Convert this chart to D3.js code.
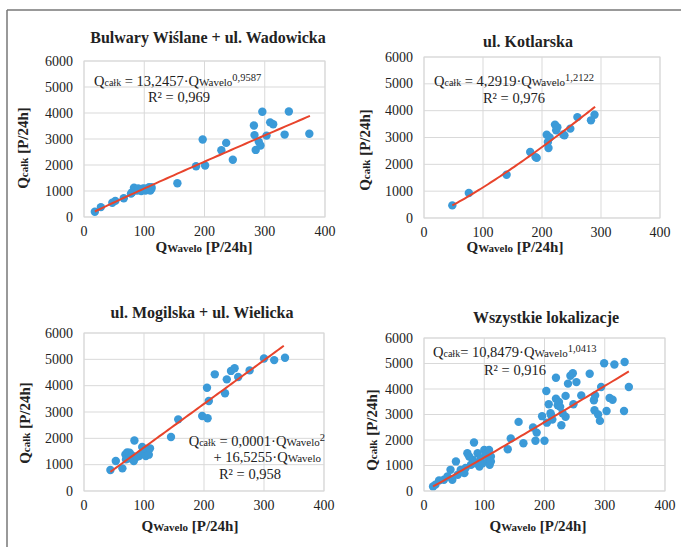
<!DOCTYPE html>
<html><head><meta charset="utf-8">
<script src="https://cdn.jsdelivr.net/npm/d3@7"></script>
<style>body{margin:0;background:#fff}svg{display:block}</style>
</head><body>
<svg id="c" width="681" height="547"></svg>
<script>
const FF = "'Liberation Serif'";
const xTicks = [0,100,200,300,400];
const yTicks = [0,1000,2000,3000,4000,5000,6000];
const titles = ["Bulwary Wiślane + ul. Wadowicka","ul. Kotlarska","ul. Mogilska + ul. Wielicka","Wszystkie lokalizacje"];
const r2 = ["0,969","0,976","0,958","0,916"];

const bulwaryX = [18,28,47,52,66,78,80,83,85,88,90,95,97,100,102,105,108,110,112,112,155,186,197,201,228,236,247,282,283,285,290,293,296,303,309,314,333,340,374];
const bulwaryY = [200,380,550,620,720,900,950,1130,1050,1020,1100,1000,1090,1100,1020,1080,1150,1020,1090,1150,1300,1950,2980,1980,2570,2850,2200,3520,3150,2580,2900,2750,4050,3130,3640,3570,3170,4060,3200];

const kotlarskaX = [48,76,140,180,189,191,208,210,211,213,222,224,226,236,238,248,260,283,289];
const kotlarskaY = [470,930,1610,2460,2270,2240,3100,2830,2610,3000,3480,3270,3380,3110,3080,3330,3760,3640,3850];

const mogilskaX = [44,53,64,69,70,72,75,76,79,80,83,84,88,92,95,97,100,103,106,108,110,145,157,197,205,206,208,218,235,238,245,251,257,276,300,317,335];
const mogilskaY = [800,1140,860,1390,1200,1460,1240,1450,1270,1350,1140,1920,1300,1330,1400,1670,1420,1330,1540,1380,1620,2050,2720,2850,3920,2760,3420,4430,3710,4240,4560,4660,4330,4580,5030,4970,5060];

const allX = [15,19,25,33,39,44,47,53,56,61,67,69,72,75,78,81,83,86,89,92,94,97,100,103,106,108,109,111,111,139,144,157,165,181,185,187,196,200,203,204,207,211,213,219,219,222,224,228,235,235,239,243,247,248,253,261,275,282,283,284,289,292,294,299,303,308,313,316,332,333,340,210,226,230];
const allY = [180,250,415,440,570,830,440,1160,640,830,700,900,1480,1350,1030,1220,1900,1090,1480,960,1290,1090,1610,1420,1160,1610,1030,1350,1160,1640,2060,2710,1870,2490,1970,2290,2935,1970,3920,2680,3400,2970,2800,4440,3620,3360,3490,2580,3730,2910,4210,4520,4620,3400,4270,3750,4600,3560,3170,3750,3000,2750,4080,5010,3140,3650,3580,4960,3140,5060,4080,3050,3300,3050];

// trend coefficients read from the equations
const fits = [
  {type:"pow", a:13.2457, b:0.9587, x0:18, x1:375},
  {type:"pow", a:4.2919, b:1.2122, x0:48, x1:290},
  {type:"poly", a:0.0001, b:16.5255, x0:44, x1:333},
  {type:"pow", a:10.8479, b:1.0413, x0:15, x1:340}
];

const panels = [
  {xs:bulwaryX, ys:bulwaryY, L:84, R:325, T:61, B:217, titleX:208, titleY:43, ylx:23, yly:148, xlx:204, xly:252,
   eq:{x:94,y:86,coef:"13,2457",exp:"0,9587",sp:" = "}, r2x:179, r2y:102},
  {xs:kotlarskaX, ys:kotlarskaY, L:424, R:660, T:57, B:218, titleX:528, titleY:47, ylx:365, yly:150, xlx:515, xly:252,
   eq:{x:434,y:86,coef:"4,2919",exp:"1,2122",sp:" = "}, r2x:514, r2y:103},
  {xs:mogilskaX, ys:mogilskaY, L:84, R:324, T:333, B:491, titleX:202, titleY:318, ylx:25, yly:423, xlx:190, xly:531,
   eq:null, r2x:250, r2y:479},
  {xs:allX, ys:allY, L:424, R:665, T:338, B:491, titleX:546, titleY:323, ylx:372, yly:430, xlx:538, xly:531,
   eq:{x:433,y:357,coef:"10,8479",exp:"1,0413",sp:"= "}, r2x:515, r2y:375}
];

const svg = d3.select("#c");
const col = "#222";
svg.append("line").attr("x1",7).attr("y1",10).attr("x2",681).attr("y2",10).attr("stroke","#777").attr("stroke-width",1.5);
svg.append("line").attr("x1",7).attr("y1",10).attr("x2",7).attr("y2",547).attr("stroke","#777").attr("stroke-width",1.5);

function txt(sel){ return sel.append("text").attr("font-family",FF).attr("fill",col); }

panels.forEach((p,i)=>{
  const g = svg.append("g");
  const x = d3.scaleLinear().domain([0,400]).range([p.L,p.R]);
  const y = d3.scaleLinear().domain([0,6000]).range([p.B,p.T]);
  g.selectAll(".gx").data(xTicks).join("line").attr("x1",d=>x(d)).attr("x2",d=>x(d)).attr("y1",p.T).attr("y2",p.B).attr("stroke","#d9d9d9").attr("stroke-width",1);
  g.selectAll(".gy").data(yTicks).join("line").attr("y1",d=>y(d)).attr("y2",d=>y(d)).attr("x1",p.L).attr("x2",p.R).attr("stroke","#d9d9d9").attr("stroke-width",1);
  g.selectAll(".tx").data(xTicks).join("text").attr("font-family",FF).attr("fill",col).attr("x",d=>x(d)).attr("y",p.B+19).attr("text-anchor","middle").attr("font-size",14).text(d=>d);
  g.selectAll(".ty").data(yTicks).join("text").attr("font-family",FF).attr("fill",col).attr("x",p.L-11).attr("y",d=>y(d)+4.5).attr("text-anchor","end").attr("font-size",14).text(d=>d);
  txt(g).attr("x",p.titleX).attr("y",p.titleY).attr("text-anchor","middle").attr("font-size",16).attr("font-weight","bold").text(titles[i]);
  const xl = txt(g).attr("x",p.xlx).attr("y",p.xly).attr("text-anchor","middle").attr("font-weight","bold").attr("font-size",15);
  xl.append("tspan").text("Q");
  xl.append("tspan").attr("font-size",11).text("Wavelo");
  xl.append("tspan").text(" [P/24h]");
  const yl = txt(g).attr("transform",`translate(${p.ylx+5},${p.yly}) rotate(-90)`).attr("text-anchor","middle").attr("font-weight","bold").attr("font-size",15);
  yl.append("tspan").text("Q");
  yl.append("tspan").attr("font-size",11).text("całk");
  yl.append("tspan").text(" [P/24h]");
  const pts = p.xs.map((v,k)=>[v,p.ys[k]]);
  g.selectAll(".pt").data(pts).join("circle").attr("cx",d=>x(d[0])).attr("cy",d=>y(d[1])).attr("r",4.2).attr("fill","#3b9ad8");
  const f = fits[i];
  const fn = f.type==="pow" ? (v=>f.a*Math.pow(v,f.b)) : (v=>f.a*v*v+f.b*v);
  const xsLine = d3.range(0,61).map(k=>f.x0+(f.x1-f.x0)*k/60);
  g.append("path").attr("d",d3.line().x(d=>x(d)).y(d=>y(fn(d)))(xsLine)).attr("fill","none").attr("stroke","#e8442c").attr("stroke-width",2);
  g.append("rect").attr("x",p.L).attr("y",p.T).attr("width",p.R-p.L).attr("height",p.B-p.T).attr("fill","none").attr("stroke","#d9d9d9");
  if(p.eq){
    const t = txt(g).attr("x",p.eq.x).attr("y",p.eq.y).attr("font-size",14.5);
    t.append("tspan").text("Q");
    t.append("tspan").attr("font-size",10).text("całk");
    t.append("tspan").text(p.eq.sp+p.eq.coef+"·Q");
    t.append("tspan").attr("font-size",11).text("Wavelo");
    t.append("tspan").attr("font-size",10.5).attr("dy",-5).text(p.eq.exp);
  } else {
    const t1 = txt(g).attr("x",325).attr("y",446).attr("text-anchor","end").attr("font-size",14.5);
    t1.append("tspan").text("Q");
    t1.append("tspan").attr("font-size",10).text("całk");
    t1.append("tspan").text(" = 0,0001·Q");
    t1.append("tspan").attr("font-size",11).text("Wavelo");
    t1.append("tspan").attr("font-size",10.5).attr("dy",-5).text("2");
    const t2 = txt(g).attr("x",321).attr("y",462).attr("text-anchor","end").attr("font-size",14.5);
    t2.append("tspan").text("+ 16,5255·Q");
    t2.append("tspan").attr("font-size",11).text("Wavelo");
  }
  txt(g).attr("x",p.r2x).attr("y",p.r2y).attr("text-anchor","middle").attr("font-size",14.5).text("R² = "+r2[i]);
});
</script>
</body></html>
